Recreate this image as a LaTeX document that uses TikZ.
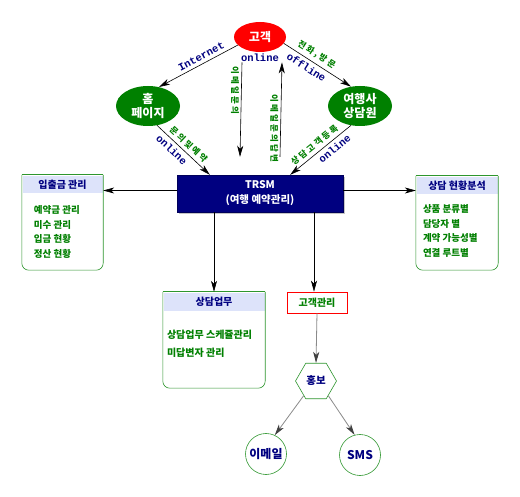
\documentclass[tikz,border=0pt]{standalone}
\usepackage{fontspec}
\setmainfont{Noto Sans CJK KR}
\setmonofont{Liberation Mono}
\usetikzlibrary{arrows.meta,positioning,shapes.geometric,calc,shadows}
\definecolor{navy}{HTML}{000080}
\definecolor{leaf}{HTML}{008000}
\definecolor{frame}{HTML}{2E962E}
\definecolor{header}{HTML}{DDE3FA}
\definecolor{cred}{HTML}{FF0000}
\definecolor{greyline}{HTML}{8A8A8A}
\tikzset{
  actor/.style={ellipse,fill=leaf,text=white,align=center,inner sep=1pt,font=\bfseries\fontsize{12}{13.5}\selectfont},
  mainbox/.style={rectangle,fill=navy,draw=navy!70!black,text=white,align=center,minimum width=166pt,minimum height=37pt,font=\bfseries\fontsize{10.5}{15}\selectfont,drop shadow={shadow xshift=2pt,shadow yshift=-2pt,opacity=0.45}},
  panel/.style={rectangle,inner sep=0pt},
  panelhead/.style={rectangle,fill=header,text=navy,inner sep=0pt,minimum height=17pt,font=\bfseries\fontsize{10}{12}\selectfont},
  panelline/.style={draw=frame,semithick},
  itemlist/.style={anchor=north west,inner sep=0pt,text=leaf,align=left,font=\bfseries\fontsize{9.5}{14.5}\selectfont},
  crmbox/.style={rectangle,draw=cred,semithick,text=leaf,minimum width=60pt,minimum height=21pt,font=\bfseries\fontsize{10}{12}\selectfont},
  hexa/.style={regular polygon,regular polygon sides=6,draw=frame,semithick,text=navy,minimum size=41pt,inner sep=0pt,font=\bfseries\fontsize{10.5}{12}\selectfont},
  endpoint/.style={circle,draw=frame,semithick,text=navy,minimum size=41pt,inner sep=0pt,font=\bfseries\fontsize{12}{13}\selectfont},
  link/.style={-{Stealth[length=11pt,width=6pt,inset=3pt]},semithick,black},
  greylink/.style={-{Stealth[length=11pt,width=6pt,inset=3pt,black!75]},thick,greyline},
  netword/.style={font=\ttfamily\bfseries\fontsize{10.5}{11}\selectfont,text=navy,inner sep=1pt},
  netlbl/.style={netword,sloped,inner sep=3.5pt},
  korlbl/.style={font=\bfseries\fontsize{8.5}{9}\selectfont\addfontfeature{LetterSpace=25},text=leaf,inner sep=3.5pt}
}
\newcommand{\panelframe}[1]{%
  \draw[panelline] (#1.north west) -- (#1.north east);
  \draw[panelline,rounded corners=7pt] (#1.north west) -- (#1.south west) -- (#1.south east) -- (#1.north east);}

\begin{document}
\begin{tikzpicture}[x=1pt,y=-1pt]
  \useasboundingbox[fill=white] (0,0) rectangle (520,497);
  % actors
  \node[actor,fill=cred,minimum width=52pt,minimum height=30pt] (cust) at (260,37) {고객};
  \node[netword,below=0pt of cust] (custonline) {online};
  \node[actor,minimum width=64pt,minimum height=40pt] (home) at (148,106) {홈\\페이지};
  \node[actor,minimum width=64pt,minimum height=40pt] (agent) at (360,106) {여행사\\상담원};
  \node[mainbox] (trsm) at (260,193.5) {TRSM\\(여행 예약관리)};

  % panels
  \node[panel,minimum width=81pt,minimum height=95pt] (deposit) at (62.5,222.5) {};
  \node[panelhead,minimum width=80pt,anchor=north] (deposithd) at ([yshift=-1pt]deposit.north) {입출금 관리};
  \node[itemlist] (depositlist) at ([xshift=12pt,yshift=-30.5pt]deposit.north west) {예약금 관리\\미수 관리\\입금 현황\\정산 현황};
  \panelframe{deposit}

  \node[panel,minimum width=82pt,minimum height=94pt] (stats) at (457,223) {};
  \node[panelhead,minimum width=81pt,anchor=north] (statshd) at ([yshift=-1pt]stats.north) {상담 현황분석};
  \node[itemlist] (statslist) at ([xshift=7pt,yshift=-28.5pt]stats.north west) {상품 분류별\\담당자 별\\계약 가능성별\\연결 루트별};
  \panelframe{stats}

  \node[panel,minimum width=102pt,minimum height=96pt] (consult) at (214,340) {};
  \node[panelhead,minimum width=101pt,minimum height=18pt,anchor=north] (consulthd) at ([yshift=-1pt]consult.north) {상담업무};
  \node[itemlist,font=\bfseries\fontsize{10}{18}\selectfont] (consultlist) at ([xshift=4pt,yshift=-38.5pt]consult.north west) {상담업무 스케쥴관리\\미답변자 관리};
  \panelframe{consult}

  \node[crmbox] (crm) at (317,302.5) {고객관리};
  \node[hexa] (promo) at (316,381) {홍보};
  \node[endpoint] (email) at (266,454) {이메일};
  \node[endpoint] (sms) at (360,455) {SMS};

  % connectors
  \draw[link] (cust.200) -- node[netlbl,above,pos=0.42] {Internet} (home.60);
  \draw[link] (cust.-15) -- node[korlbl,sloped,above,pos=0.42] {전화,방문} node[netlbl,below,pos=0.4] {offline} (agent.115);
  \draw[link] ([xshift=-18pt]custonline.south) -- node[korlbl,rotate=-90,anchor=north,pos=0.3,inner sep=2pt] {이메일문의} ([xshift=-20pt,yshift=18pt]trsm.north);
  \draw[link] ([xshift=20pt,yshift=18pt]trsm.north) -- node[korlbl,rotate=-90,anchor=north,pos=0.3,inner sep=2pt] {이메일문의답변} ([xshift=22pt]custonline.south);
  \draw[link] (home.-65) -- node[korlbl,sloped,above,pos=0.5] {문의및예약} node[netlbl,below,pos=0.38] {online} ([xshift=33pt]trsm.north west);
  \draw[link] (agent.-115) -- node[korlbl,sloped,above,pos=0.52] {상담고객등록} node[netlbl,below,pos=0.35] {online} ([xshift=-53pt]trsm.north east);
  \draw[link] ([yshift=3pt]trsm.west) -- ([yshift=3pt]trsm.west -| deposit.east);
  \draw[link] ([yshift=3pt]trsm.east) -- ([yshift=3pt]trsm.east -| stats.west);
  \draw[link] (trsm.south -| consult.north) -- (consult.north);
  \draw[link] ([xshift=-3pt]trsm.south -| crm.north) -- ([xshift=-3pt]crm.north);
  \draw[greylink] (crm.south) -- (promo.north);
  \draw[greylink] (promo.-130) -- (email.65);
  \draw[greylink] (promo.-50) -- (sms.105);
\end{tikzpicture}
\end{document}
